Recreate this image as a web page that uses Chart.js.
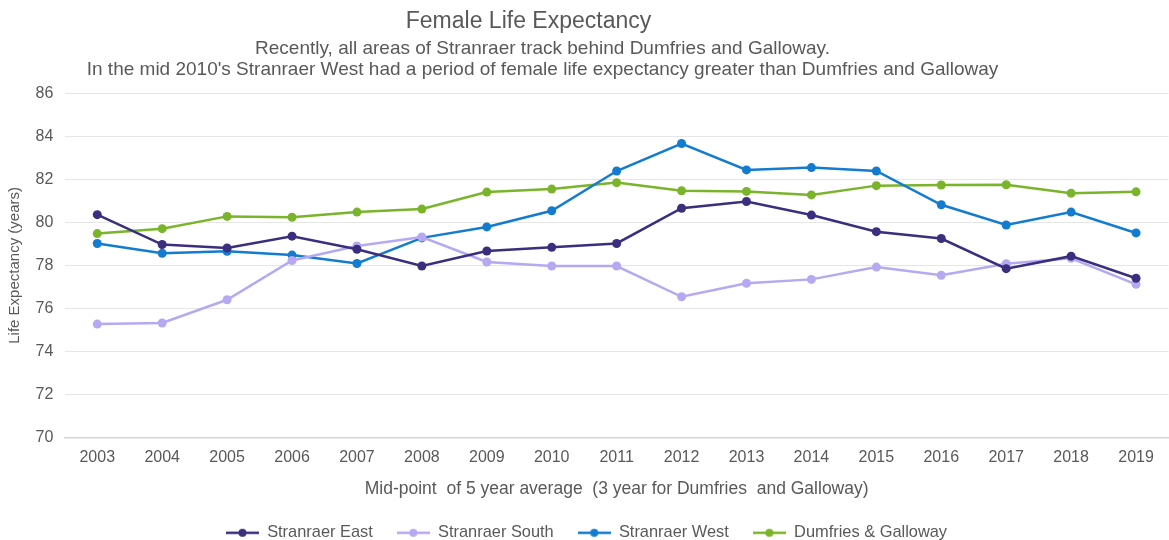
<!DOCTYPE html>
<html>
<head>
<meta charset="utf-8">
<script src="https://cdn.jsdelivr.net/npm/chart.js@4"></script>
<style>
html,body{margin:0;padding:0;background:#fff;overflow:hidden;}
#wrap{width:1169px;height:540px;overflow:hidden;}
</style>
</head>
<body>
<div id="wrap"><canvas id="lifeChart" width="1173" height="540"></canvas></div>
<script>
const years = ["2003","2004","2005","2006","2007","2008","2009","2010","2011","2012","2013","2014","2015","2016","2017","2018","2019"];
const stranraerEast  = [80.36,78.97,78.81,79.36,78.75,77.97,78.67,78.84,79.02,80.66,80.97,80.34,79.57,79.25,77.85,78.43,77.40];
const stranraerSouth = [75.27,75.32,76.40,78.23,78.90,79.32,78.16,77.97,77.97,76.54,77.17,77.35,77.92,77.54,78.08,78.33,77.12];
const stranraerWest  = [79.02,78.56,78.66,78.48,78.09,79.28,79.79,80.54,82.39,83.67,82.44,82.55,82.39,80.82,79.88,80.48,79.51];
const dumfriesGalloway = [79.48,79.71,80.28,80.24,80.48,80.62,81.41,81.55,81.85,81.47,81.44,81.28,81.71,81.74,81.75,81.36,81.42];
const yTicks = [70,72,74,76,78,80,82,84,86];

const grey = "#595959";
const font = "'Liberation Sans', Arial, sans-serif";

// legend marker: short line with a dot
function marker(color){
let c=document.createElement("canvas");
c.width=33;c.height=10;
let g=c.getContext("2d");
g.strokeStyle=color;g.lineWidth=2.5;
g.beginPath();g.moveTo(0,5);g.lineTo(33,5);g.stroke();
g.fillStyle=color;
g.beginPath();g.arc(16.5,5,4,0,Math.PI*2);g.fill();
return c;
}

function series(label,data,color){
return {label:label,data:data,borderColor:color,backgroundColor:color,
borderWidth:2.5,pointRadius:4.5,pointHoverRadius:4.5,pointBorderWidth:0,tension:0};
}

// titles in the original sit a bit left of centre
const shiftTitles={id:"shiftTitles",afterLayout(chart){
chart.boxes.forEach(b=>{
if(b.position!=="top"||b.axis)return;
b.right-=(b===chart.titleBlock)?116:88;
});
}};

new Chart(document.getElementById("lifeChart"),{
type:"line",
data:{
labels:years,
datasets:[
series("Stranraer East",stranraerEast,"#3b2e7e"),
series("Stranraer South",stranraerSouth,"#b6a9f2"),
series("Stranraer West",stranraerWest,"#137cd0"),
series("Dumfries & Galloway",dumfriesGalloway,"#7ab42b")
]
},
plugins:[shiftTitles],
options:{
responsive:false,
animation:false,
layout:{padding:{left:0,right:0,top:0,bottom:-11}},
plugins:{
title:{display:true,text:"Female Life Expectancy",color:grey,
font:{family:font,size:23,weight:"normal",lineHeight:1.2},padding:{top:8,bottom:3}},
subtitle:{display:true,
text:["Recently, all areas of Stranraer track behind Dumfries and Galloway.",
"In the mid 2010's Stranraer West had a period of female life expectancy greater than Dumfries and Galloway"],
color:grey,font:{family:font,size:19,lineHeight:1.1},padding:{top:0,bottom:13}},
legend:{position:"bottom",
labels:{color:grey,font:{family:font,size:16.4},usePointStyle:true,pointStyleWidth:33,padding:24,
generateLabels:chart=>chart.data.datasets.map((d,i)=>({
text:d.label,fontColor:grey,pointStyle:marker(d.borderColor),
strokeStyle:d.borderColor,fillStyle:d.borderColor,lineWidth:0,datasetIndex:i,hidden:false
}))}},
tooltip:{enabled:false}
},
scales:{
x:{offset:true,
afterFit:s=>{s.paddingLeft=0;s.paddingRight=0;},
grid:{display:false,drawTicks:false},
border:{color:"#d6d6d6",width:1.5},
ticks:{color:grey,font:{family:font,size:16},padding:11,maxRotation:0},
title:{display:true,text:"Mid-point  of 5 year average  (3 year for Dumfries  and Galloway)",
color:grey,font:{family:font,size:17.5},padding:{top:0,bottom:1}}
},
y:{min:70,max:86,
afterBuildTicks:ax=>{ax.ticks=yTicks.map(v=>({value:v}));},
grid:{color:"#e6e6e6",drawTicks:false},
border:{display:false},
ticks:{color:grey,font:{family:font,size:16},padding:11.5},
title:{display:true,text:"Life Expectancy (years)",color:grey,
font:{family:font,size:15},padding:{top:6,bottom:0}}
}
}
}
});
</script>
</body>
</html>
